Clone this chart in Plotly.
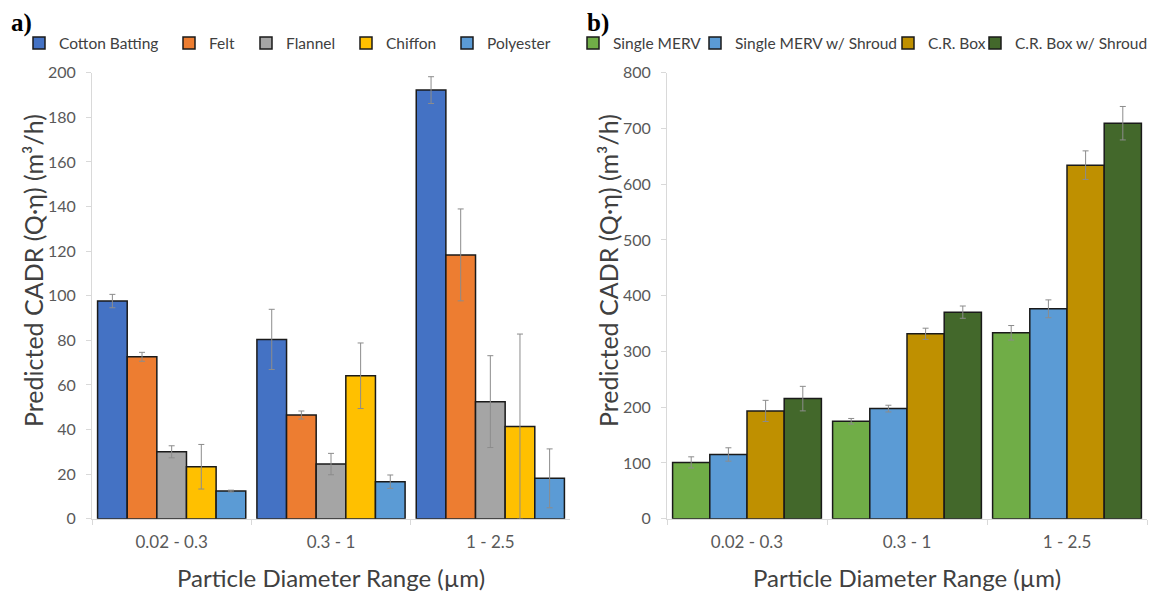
import plotly.graph_objects as go
from plotly.subplots import make_subplots

categories = ["0.02 - 0.3", "0.3 - 1", "1 - 2.5"]

# Panel a: fabrics
a_names = ["Cotton Batting", "Felt", "Flannel", "Chiffon", "Polyester"]
a_colors = ["#4472C4", "#ED7D31", "#A5A5A5", "#FFC000", "#5B9BD5"]
cotton = [97.6, 80.4, 192.2]
felt = [72.6, 46.5, 118.3]
flannel = [30.0, 24.5, 52.5]
chiffon = [23.3, 64.1, 41.3]
polyester = [12.4, 16.6, 18.1]
cotton_err = [3.0, 13.5, 6.0]
felt_err = [2.0, 1.8, 20.6]
flannel_err = [2.7, 4.8, 20.6]
chiffon_err = [10.0, 14.7, 41.5]
polyester_err = [0.4, 3.0, 13.2]
a_values = [cotton, felt, flannel, chiffon, polyester]
a_errors = [cotton_err, felt_err, flannel_err, chiffon_err, polyester_err]
a_ticks = [0, 20, 40, 60, 80, 100, 120, 140, 160, 180, 200]

# Panel b: configurations
b_names = ["Single MERV", "Single MERV w/ Shroud", "C.R. Box", "C.R. Box w/ Shroud"]
b_colors = ["#70AD47", "#5B9BD5", "#BF9000", "#43682B"]
single_merv = [101.0, 174.8, 333.5]
single_merv_shroud = [115.2, 197.5, 376.5]
cr_box = [193.3, 331.7, 634.2]
cr_box_shroud = [215.4, 370.5, 709.4]
single_merv_err = [10.0, 5.0, 13.0]
single_merv_shroud_err = [12.0, 6.0, 16.0]
cr_box_err = [19.0, 10.0, 25.6]
cr_box_shroud_err = [22.0, 11.0, 30.0]
b_values = [single_merv, single_merv_shroud, cr_box, cr_box_shroud]
b_errors = [single_merv_err, single_merv_shroud_err, cr_box_err, cr_box_shroud_err]
b_ticks = [0, 100, 200, 300, 400, 500, 600, 700, 800]

FONT = "Lato"
# page has an 8px body margin; figure fills the rest of the 1158x592 window
OFF = 8
W, H = 1150, 584


def px(x):
    return (x - OFF) / W


def py(y):
    return 1 - (y - OFF) / H


# legend text start positions (screen px) in the reference
a_leg_x = [54, 204, 281, 381, 482]
b_leg_x = [608, 730, 923, 1010]

fig = make_subplots(rows=1, cols=2)

legend_font = dict(family=FONT, size=15.5, color="#404040")
legends = {}
k = 1
for name, col, vals, errs, lx in zip(a_names, a_colors, a_values, a_errors, a_leg_x):
    key = "legend" if k == 1 else f"legend{k}"
    fig.add_trace(go.Bar(
        name=name, x=categories, y=vals, showlegend=True,
        marker=dict(color=col, line=dict(color="#1a1a1a", width=1.5)),
        error_y=dict(type="data", array=errs, color="#8c8c8c", thickness=1, width=3),
        legend=key,
    ), row=1, col=1)
    legends[key] = dict(orientation="h", x=px(lx - 35), y=py(43.5), xanchor="left",
                        yanchor="middle", font=legend_font, itemwidth=30,
                        bgcolor="rgba(0,0,0,0)")
    k += 1

for name, col, vals, errs, lx in zip(b_names, b_colors, b_values, b_errors, b_leg_x):
    key = f"legend{k}"
    fig.add_trace(go.Bar(
        name=name, x=categories, y=vals, showlegend=True,
        marker=dict(color=col, line=dict(color="#1a1a1a", width=1.5)),
        error_y=dict(type="data", array=errs, color="#8c8c8c", thickness=1, width=3),
        legend=key,
    ), row=1, col=2)
    legends[key] = dict(orientation="h", x=px(lx - 35), y=py(43.5), xanchor="left",
                        yanchor="middle", font=legend_font, itemwidth=30,
                        bgcolor="rgba(0,0,0,0)")
    k += 1

ybot = py(518.7)
ytop = py(72.7)

axis_common = dict(showgrid=False, showline=True, linecolor="#d9d9d9", linewidth=1,
                   ticks="outside", ticklen=5, tickcolor="#d9d9d9", automargin=False,
                   tickfont=dict(family=FONT, size=16, color="#595959"), zeroline=False)

fig.update_xaxes(**axis_common)
fig.update_yaxes(**axis_common)
fig.update_xaxes(tickson="boundaries", type="category", ticklabelstandoff=8,
                 tickfont=dict(family=FONT, size=17, color="#595959"))
fig.update_yaxes(ticklabelstandoff=7)

fig.update_layout(
    width=W, height=H,
    showlegend=True,
    margin=dict(l=0, r=0, t=0, b=0, autoexpand=False),
    paper_bgcolor="white", plot_bgcolor="white",
    barmode="group", bargap=0.07, bargroupgap=0,
    font=dict(family=FONT, color="#404040"),
    xaxis=dict(domain=[px(92), px(570)], anchor="y"),
    yaxis=dict(domain=[ybot, ytop], range=[0, 200], tickvals=a_ticks, anchor="x"),
    xaxis2=dict(domain=[px(667), px(1147)], anchor="y2"),
    yaxis2=dict(domain=[ybot, ytop], range=[0, 800], tickvals=b_ticks, anchor="x2"),
    **legends,
)

ann = []
ann.append(dict(text="<b>a)</b>", x=px(10), y=py(8), xref="paper", yref="paper",
                xanchor="left", yanchor="top", showarrow=False, borderpad=0,
                font=dict(family="Liberation Serif", size=25, color="black")))
ann.append(dict(text="<b>b)</b>", x=px(586), y=py(8), xref="paper", yref="paper",
                xanchor="left", yanchor="top", showarrow=False, borderpad=0,
                font=dict(family="Liberation Serif", size=25, color="black")))
for cx in [(92 + 570) / 2, (667 + 1147) / 2]:
    ann.append(dict(text="Particle Diameter Range (µm)", x=px(cx), y=py(577),
                    xref="paper", yref="paper", xanchor="center", yanchor="middle",
                    showarrow=False, font=dict(family=FONT, size=24, color="#404040")))
for cx in [33, 608]:
    ann.append(dict(text="Predicted CADR (Q·η) (m³/h)", x=px(cx), y=py(271),
                    xref="paper", yref="paper", xanchor="center", yanchor="middle",
                    textangle=-90, showarrow=False,
                    font=dict(family=FONT, size=25, color="#404040")))
fig.update_layout(annotations=ann)

fig.write_html("out.html")
